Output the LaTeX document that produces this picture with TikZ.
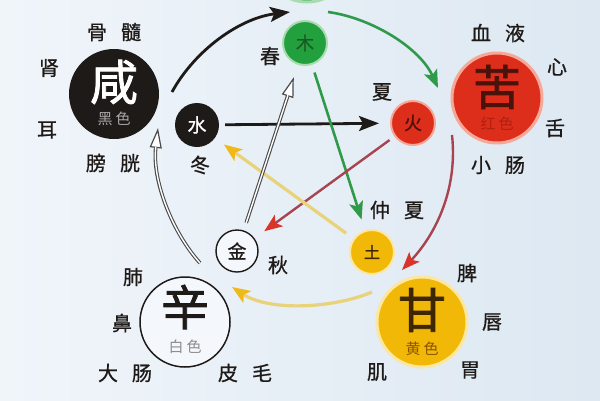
\documentclass[tikz,border=0pt]{standalone}
\usepackage{fontspec}
\setmainfont{Noto Sans CJK SC}
\newfontfamily\cjkm[FakeBold=0.8]{Noto Sans CJK SC}
\newfontfamily\cjkb[FakeBold=1.6]{Noto Sans CJK SC}
\usetikzlibrary{arrows.meta}
\definecolor{bgL}{HTML}{F0F5FA}
\definecolor{bgR}{HTML}{DDE8F2}
\definecolor{inkc}{HTML}{1E1A18}
\definecolor{grn}{HTML}{23A03E}
\definecolor{grnline}{HTML}{2E9A4A}
\definecolor{grnhalo}{HTML}{A8DCB0}
\definecolor{grntxt}{HTML}{1A5A22}
\definecolor{redc}{HTML}{DD2E1C}
\definecolor{redhalo}{HTML}{F5A898}
\definecolor{redtxt}{HTML}{4A1208}
\definecolor{redsub}{HTML}{B0200E}
\definecolor{maroonc}{HTML}{A8434F}
\definecolor{headred}{HTML}{D9342A}
\definecolor{yel}{HTML}{F2B807}
\definecolor{yelhalo}{HTML}{FBE7A0}
\definecolor{yeltxt}{HTML}{3E2600}
\definecolor{yelsub}{HTML}{8A5400}
\definecolor{yelline}{HTML}{E8D27A}
\definecolor{headyel}{HTML}{F0B818}
\definecolor{hollowc}{HTML}{4A4A4A}
\definecolor{whitec}{HTML}{F4F8FC}
\newcommand\cjgap{\hspace{14pt}}
\begin{document}
\begin{tikzpicture}[x=1pt,y=-1pt,
  lbl/.style={font=\cjkm\fontsize{20}{20}\selectfont, text=inkc, inner sep=0pt},
  bigc/.style={circle, minimum size=90pt, inner sep=0pt},
  smc/.style={circle, minimum size=44pt, inner sep=0pt},
  bigch/.style={font=\cjkb\fontsize{48}{48}\selectfont, inner sep=0pt},
  colch/.style={font=\fontsize{15}{15}\selectfont, inner sep=0pt},
  smch/.style={font=\cjkm\fontsize{19}{19}\selectfont, inner sep=0pt},
  blkarr/.style={draw=inkc, line width=2.8pt, -{Stealth[length=20pt,width=15pt,inset=4pt]}},
  grnarr/.style={draw=grnline, line width=2.6pt, -{Stealth[length=18pt,width=14pt,inset=4pt]}},
  redarr/.style={draw=maroonc, line width=2.4pt, -{Stealth[color=headred,length=18pt,width=14pt,inset=4pt]}},
  yelarr/.style={draw=yelline, line width=3.2pt, -{Stealth[color=headyel,length=18pt,width=14pt,inset=4pt]}},
  holarr/.style={draw=hollowc, line width=3.6pt, -{Triangle[fill=white,length=20pt,width=12pt,line width=1.2pt]}},
  holin/.style={draw=white, line width=1.4pt}
]
\useasboundingbox (0,0) rectangle (600,400);
\shade[left color=bgL, right color=bgR] (0,0) rectangle (600,400);

% top (cropped) green circle
\node[bigc, fill=grn, draw=grnhalo, line width=3pt] (suan) at (307,-43) {};

% big circles
\node[bigc, fill=inkc] (xian) at (114,94) {};
\node[bigch, text=white] (xianT) at (114,82) {咸};
\node[colch, text=black!35] (xianC) at (114,119) {黑\hspace{3pt}色};

\node[bigc, fill=redc, draw=redhalo, line width=3pt] (ku) at (497,98) {};
\node[bigch, text=redtxt] (kuT) at (497,87) {苦};
\node[colch, text=redsub] (kuC) at (497,124) {红\hspace{3pt}色};

\node[bigc, fill=yel, draw=yelhalo, line width=3pt] (gan) at (422,322) {};
\node[bigch, text=yeltxt] (ganT) at (422,310) {甘};
\node[colch, text=yelsub] (ganC) at (422,349) {黄\hspace{3pt}色};

\node[bigc, fill=whitec, draw=inkc, line width=1.5pt] (xin) at (185,322) {};
\node[bigch, text=inkc] (xinT) at (185,307) {辛};
\node[colch, text=black!45] (xinC) at (185,347) {白\hspace{3pt}色};

% small circles
\node[smc, fill=inkc, text=white, smch] (shui) at (197,125) {水};
\node[smc, fill=grn, draw=grnhalo, line width=2pt, text=grntxt, font=\cjkm\fontsize{18}{18}\selectfont] (mu) at (305,43) {木};
\node[smc, fill=redc, draw=redhalo, line width=2pt, text=redtxt, font=\cjkm\fontsize{18}{18}\selectfont] (huo) at (413,123) {火};
\node[smc, fill=yel, draw=yelhalo, line width=2pt, text=yeltxt, font=\cjkb\fontsize{16}{16}\selectfont] (tu) at (372,252) {土};
\node[smc, minimum size=42pt, fill=whitec, draw=inkc, line width=1.4pt, text=inkc, smch] (jin) at (237,251) {金};

% labels
\node[lbl] (l1) at (114,32) {骨\cjgap 髓};
\node[lbl] (l2) at (49,68) {肾};
\node[lbl] (l3) at (47,130) {耳};
\node[lbl] (l4) at (113,163) {膀\cjgap 胱};
\node[lbl] (l5) at (200,165) {冬};
\node[lbl] (l6) at (270,56) {春};
\node[lbl] (l7) at (382,92) {夏};
\node[lbl] (l8) at (498,33) {血\cjgap 液};
\node[lbl] (l9) at (557,67) {心};
\node[lbl] (l10) at (555,128) {舌};
\node[lbl] (l11) at (498,165) {小\cjgap 肠};
\node[lbl] (l12) at (397,210) {仲\cjgap 夏};
\node[lbl] (l13) at (467,273) {脾};
\node[lbl] (l14) at (492,322) {唇};
\node[lbl] (l15) at (470,370) {胃};
\node[lbl] (l16) at (377,372) {肌};
\node[lbl] (l17) at (278,265) {秋};
\node[lbl] (l18) at (133,277) {肺};
\node[lbl] (l19) at (122,323) {鼻};
\node[lbl] (l20) at (125,373) {大\cjgap 肠};
\node[lbl] (l21) at (245,373) {皮\cjgap 毛};

% outer cycle end points
\coordinate (o1s) at (172,92);  \coordinate (o1e) at (290,12);
\coordinate (o2s) at (328,12);  \coordinate (o2e) at (438,88);
\coordinate (o3s) at (452,135); \coordinate (o3e) at (402,270);
\coordinate (o4s) at (372,292); \coordinate (o4e) at (232,287);
\coordinate (o5s) at (200,263); \coordinate (o5e) at (158,128);

% outer cycle
\draw[blkarr] (o1s) .. controls (195,50) and (240,18) .. (o1e);
\draw[grnarr] (o2s) .. controls (372,18) and (420,48) .. (o2e);
\draw[redarr] (o3s) .. controls (458,190) and (435,235) .. (o3e);
\draw[yelarr] (o4s) .. controls (335,308) and (270,312) .. (o4e);
\draw[holarr] (o5s) .. controls (172,232) and (152,180) .. (o5e);
\draw[holin, shorten >=19pt] (o5s) .. controls (172,232) and (152,180) .. (o5e);

% inner star
\draw[blkarr, shorten <=6pt, shorten >=11pt] (shui) -- (huo);
\draw[grnarr, shorten <=8pt, shorten >=11pt] (mu) -- (tu);
\draw[redarr, shorten <=6pt, shorten >=12pt] (huo) -- (jin);
\draw[yelarr, shorten <=9pt, shorten >=11pt] (tu) -- (shui);
\draw[holarr, shorten <=8pt, shorten >=13pt] (jin) -- (mu);
\draw[holin, shorten <=8pt, shorten >=32pt] (jin) -- (mu);
\end{tikzpicture}
\end{document}
